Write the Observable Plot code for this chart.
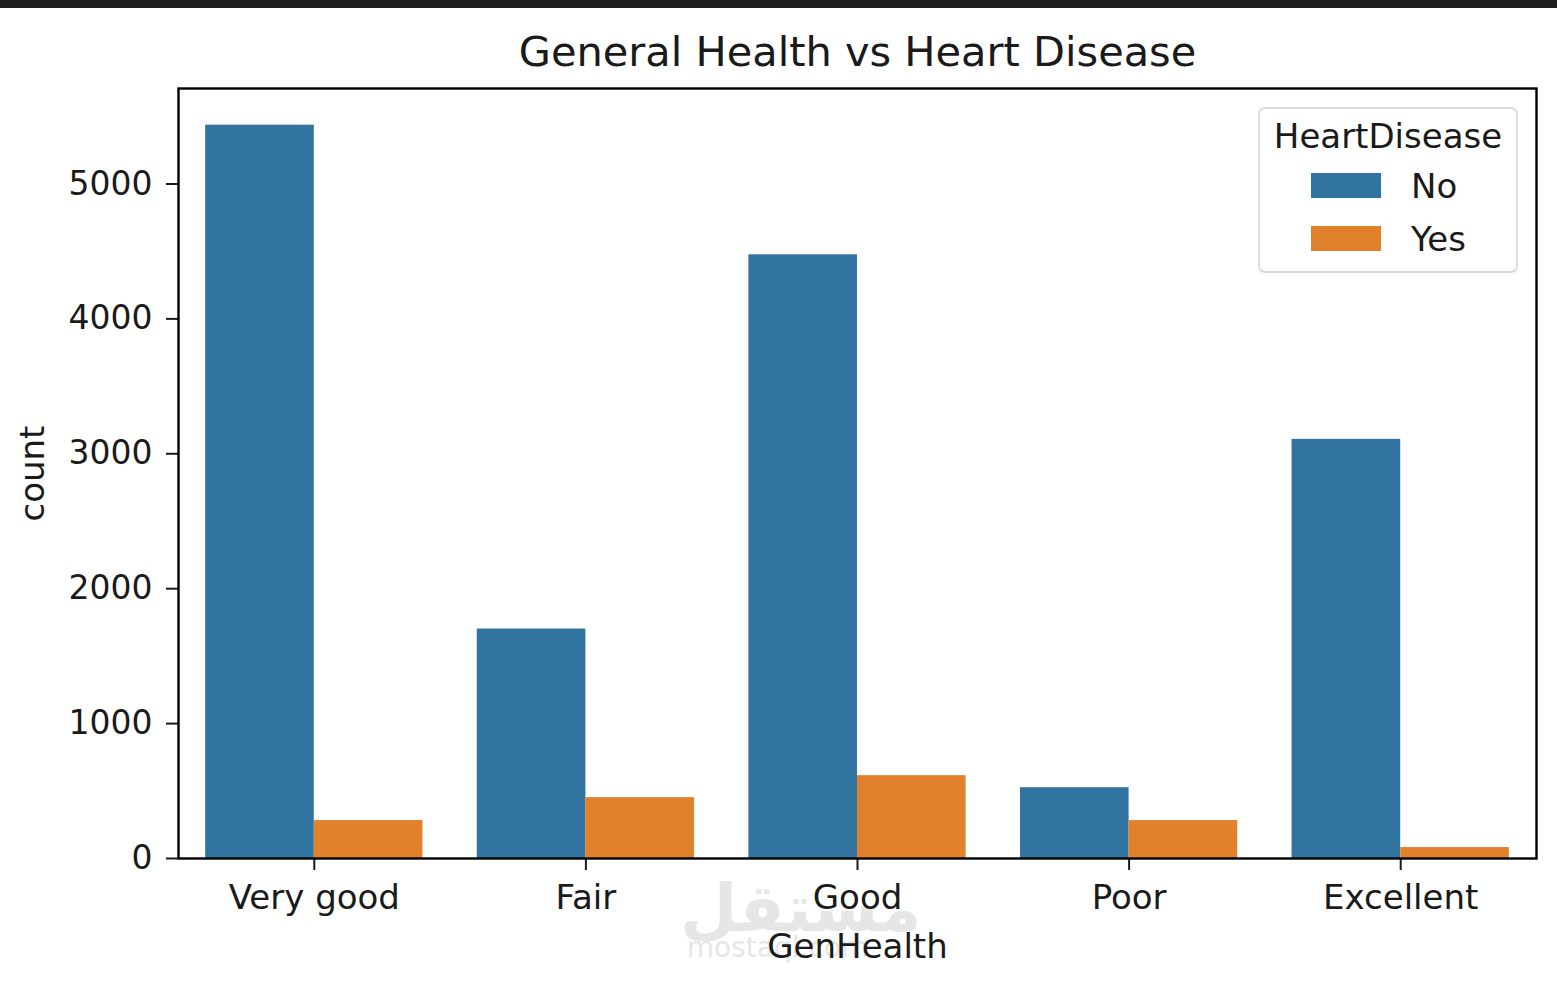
<!DOCTYPE html>
<html><head><meta charset="utf-8">
<script src="https://cdn.jsdelivr.net/npm/d3@7"></script>
<script src="https://cdn.jsdelivr.net/npm/@observablehq/plot@0.6"></script>
<style>
body{margin:0;background:#fff;font-family:"DejaVu Sans",sans-serif;}
#wrap{position:relative;width:1557px;height:990px;overflow:hidden;background:#fff}
#strip{position:absolute;left:0;top:0;width:1557px;height:8px;background:#1f1f1f;z-index:3}
#wm{position:absolute;left:680px;top:872px;width:195px;text-align:center;color:#e6e6e6;z-index:0;line-height:1}
#wm .ar{font-size:66px;font-weight:bold;font-family:"Noto Sans","DejaVu Sans",sans-serif}
#wm .en{font-size:28px;margin-top:-4px}
#chart{position:absolute;left:0;top:0;z-index:1}
#legend{position:absolute;left:1258px;top:107px;width:256px;height:162px;border:2px solid #dcdcdc;border-radius:7px;background:rgba(255,255,255,0.85);z-index:2;color:#1a1a1a}
#legend .t{position:absolute;left:0;width:100%;top:7px;text-align:center;font-size:34px;line-height:1.2}
#legend .sw{position:absolute;left:51px;width:70px;height:25px}
#legend .lb{position:absolute;left:151px;font-size:34px;line-height:1.2}
</style></head>
<body>
<div id="wrap">
  <div id="strip"></div>
  <div id="wm"><div class="ar">مستقل</div><div class="en">mostaql.com</div></div>
  <div id="chart"></div>
  <div id="legend"></div>
</div>
<script>
const categories = ["Very good", "Fair", "Good", "Poor", "Excellent"];
const series = ["No", "Yes"];
const countNo  = [5436, 1701, 4475, 525, 3107];
const countYes = [281, 451, 614, 281, 81];
const yTicks = [0, 1000, 2000, 3000, 4000, 5000];
const colors = ["#3274a1", "#e1812c"];

const rows = [];
categories.forEach((c, i) => {
  rows.push({cat: c, i, j: 0, series: "No", value: countNo[i]});
  rows.push({cat: c, i, j: 1, series: "Yes", value: countYes[i]});
});
const yMax = d3.max(rows, d => d.value) * 1.05;

const plot = Plot.plot({
  width: 1557,
  height: 990,
  marginLeft: 178,
  marginRight: 21,
  marginTop: 88,
  marginBottom: 132,
  style: {fontFamily: "DejaVu Sans, sans-serif", color: "#1a1a1a", background: "transparent"},
  x: {type: "linear", domain: [-0.5, categories.length - 0.5]},
  y: {domain: [0, yMax]},
  color: {domain: series, range: colors},
  marks: [
    Plot.rectY(rows, {
      x1: d => d.i - 0.4 + d.j * 0.4,
      x2: d => d.i + d.j * 0.4,
      y1: 0,
      y2: "value",
      fill: "series"
    }),
    Plot.axisY({ticks: yTicks, tickSize: 12, tickPadding: 14, fontSize: 33, label: null, strokeWidth: 2, tickFormat: d => String(d)}),
    Plot.axisX({ticks: d3.range(categories.length), tickFormat: i => categories[i], tickSize: 12, tickPadding: 14, fontSize: 34, label: null, strokeWidth: 2}),
    Plot.frame({stroke: "#000", strokeWidth: 2.4}),
    Plot.text(["General Health vs Heart Disease"], {frameAnchor: "top", dy: -36, fontSize: 41.5, lineAnchor: "middle", fill: "#1a1a1a"}),
    Plot.text(["count"], {frameAnchor: "left", dx: -145, rotate: -90, textAnchor: "middle", fontSize: 34, lineAnchor: "middle", fill: "#1a1a1a"}),
    Plot.text(["GenHealth"], {frameAnchor: "bottom", dy: 89, fontSize: 34, lineAnchor: "middle", fill: "#1a1a1a"})
  ]
});
document.getElementById("chart").appendChild(plot);

const lg = document.getElementById("legend");
const t = document.createElement("div"); t.className = "t"; t.textContent = "HeartDisease"; lg.appendChild(t);
series.forEach((s, k) => {
  const sw = document.createElement("div"); sw.className = "sw";
  sw.style.top = (64 + k * 53) + "px"; sw.style.background = colors[k]; lg.appendChild(sw);
  const lb = document.createElement("div"); lb.className = "lb";
  lb.style.top = (57 + k * 53) + "px"; lb.textContent = s; lg.appendChild(lb);
});
</script>
</body></html>
